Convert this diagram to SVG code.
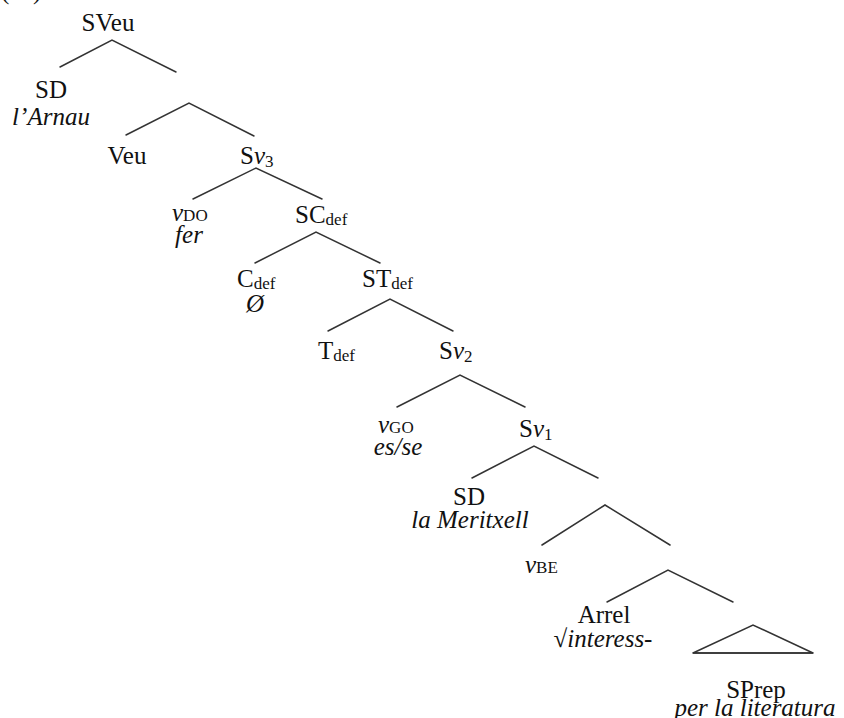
<svg xmlns="http://www.w3.org/2000/svg" width="844" height="718" viewBox="0 0 844 718">
<style>
text{font-family:"Liberation Serif","Times New Roman",serif;font-size:25px;fill:#111}
.c{text-anchor:middle}
.i{font-style:italic}
.sub{font-size:17px;font-style:normal}
.edge{stroke:#333;stroke-width:1.5;fill:none;stroke-linecap:round}
</style>
<rect width="844" height="718" fill="#fff"/>
<g id="label-number">
<text x="1" y="-1">(</text>
<text x="33" y="-1">)</text>
</g>
<g id="connectors">
<polyline class="edge" points="60,67 112,40 176,72"/>
<polyline class="edge" points="126,135 189,103 254,136"/>
<polyline class="edge" points="193,199 256,168 322,199"/>
<polyline class="edge" points="255,263 316,232 380,263"/>
<polyline class="edge" points="328,331 390,299 453,331"/>
<polyline class="edge" points="397,407 460,375 525,407"/>
<polyline class="edge" points="472,478 534,446 598,478"/>
<polyline class="edge" points="542,545 605,505 670,545"/>
<polyline class="edge" points="607,602 668,570 733,602"/>
<polygon class="edge" points="693,653 753,625 813,653"/>
<line class="edge" x1="693" y1="653" x2="813" y2="653" stroke-width="2"/>
</g>
<g id="n-SVeu"><text class="c" x="108" y="31">SVeu</text></g>
<g id="n-SD1"><text class="c" x="51" y="98">SD</text><text class="c i" x="51" y="125">l’Arnau</text></g>
<g id="n-Veu"><text class="c" x="127" y="164">Veu</text></g>
<g id="n-Sv3"><text x="240" y="164">S<tspan class="i">v</tspan><tspan class="sub" dy="3">3</tspan></text></g>
<g id="n-vDO"><text x="172" y="221"><tspan class="i">v</tspan><tspan class="sub">DO</tspan></text><text class="c i" x="189" y="243">fer</text></g>
<g id="n-SCdef"><text x="295" y="223">SC<tspan class="sub" dy="2">def</tspan></text></g>
<g id="n-Cdef"><text x="237" y="287">C<tspan class="sub" dy="2">def</tspan></text><text class="c i" x="255" y="312">Ø</text></g>
<g id="n-STdef"><text x="362" y="287">ST<tspan class="sub" dy="2">def</tspan></text></g>
<g id="n-Tdef"><text x="318" y="359">T<tspan class="sub" dy="2">def</tspan></text></g>
<g id="n-Sv2"><text x="439" y="359">S<tspan class="i">v</tspan><tspan class="sub" dy="3">2</tspan></text></g>
<g id="n-vGO"><text x="378" y="433"><tspan class="i">v</tspan><tspan class="sub">GO</tspan></text><text class="c i" x="398" y="455">es/se</text></g>
<g id="n-Sv1"><text x="519" y="437">S<tspan class="i">v</tspan><tspan class="sub" dy="3">1</tspan></text></g>
<g id="n-SD2"><text class="c" x="469" y="505">SD</text><text class="c i" x="470" y="528">la Meritxell</text></g>
<g id="n-vBE"><text x="525" y="573"><tspan class="i">v</tspan><tspan class="sub">BE</tspan></text></g>
<g id="n-Arrel"><text class="c" x="604" y="623">Arrel</text><text class="c" x="603" y="647">√<tspan class="i">interess-</tspan></text></g>
<g id="n-SPrep"><text class="c" x="756" y="698">SPrep</text><text class="c i" x="755" y="716">per la literatura</text></g>
</svg>
